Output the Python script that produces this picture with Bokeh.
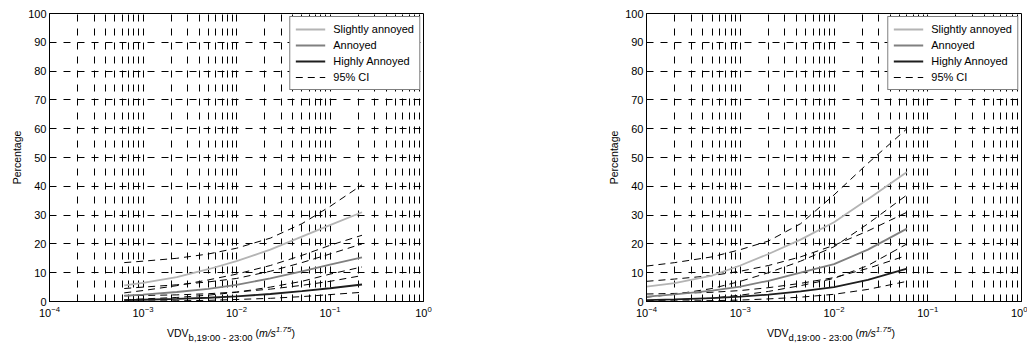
from bokeh.plotting import figure
from bokeh.models import Range1d, FixedTicker, Legend, LegendItem, Div
from bokeh.layouts import row, column
from bokeh.embed import file_html
from bokeh.resources import INLINE

FONT = "Liberation Sans"

x_ticks = [1e-4, 1e-3, 1e-2, 1e-1, 1e0]
x_minor = [m * d for d in [1e-4, 1e-3, 1e-2, 1e-1] for m in range(2, 10)]
y_ticks = [0, 10, 20, 30, 40, 50, 60, 70, 80, 90, 100]
legend_labels = ["Slightly annoyed", "Annoyed", "Highly Annoyed", "95% CI"]
y_label = "Percentage"
x_label_subs = ["b,19:00 - 23:00", "d,19:00 - 23:00"]

# ---- left panel (VDV_b) ----
left_x = [6.3e-4, 1e-3, 2.3e-3, 5e-3, 1e-2, 2.3e-2, 5e-2, 1e-1, 2.2e-1]
left_sa = [5.6, 6.5, 8.5, 11.2, 14.0, 18.0, 22.5, 26.5, 31.0]
left_a = [2.0, 2.4, 3.3, 4.4, 5.8, 8.0, 10.5, 12.8, 15.3]
left_ha = [0.5, 0.6, 0.9, 1.3, 1.8, 2.6, 3.6, 4.6, 5.9]
left_sa_up = [13.5, 14.0, 15.0, 16.5, 18.5, 22.0, 27.0, 33.0, 40.5]
left_sa_lo = [3.0, 3.8, 5.5, 7.5, 9.5, 12.5, 16.0, 19.5, 23.0]
left_a_up = [4.5, 5.0, 5.8, 6.8, 8.0, 10.5, 13.5, 16.5, 20.0]
left_a_lo = [0.6, 0.9, 1.4, 2.2, 3.2, 5.0, 7.0, 9.5, 12.0]
left_ha_up = [2.0, 2.1, 2.3, 2.7, 3.3, 4.3, 5.6, 7.0, 9.0]
left_ha_lo = [0.1, 0.15, 0.25, 0.4, 0.7, 1.1, 1.7, 2.4, 3.2]

# ---- right panel (VDV_d) ----
right_x = [1e-4, 2e-4, 5e-4, 1e-3, 2e-3, 4.4e-3, 1e-2, 2.3e-2, 6e-2]
right_sa = [5.2, 6.4, 9.0, 12.5, 16.5, 21.5, 27.5, 35.5, 45.0]
right_a = [1.7, 2.5, 3.8, 5.2, 7.2, 10.0, 13.0, 18.0, 25.3]
right_ha = [0.5, 0.75, 1.2, 1.7, 2.4, 3.5, 5.0, 7.5, 11.4]
right_sa_up = [12.3, 13.5, 15.5, 18.0, 21.0, 27.0, 37.0, 48.0, 60.0]
right_sa_lo = [1.5, 2.5, 4.5, 7.0, 10.0, 14.0, 19.0, 27.0, 37.0]
right_a_up = [7.0, 7.8, 9.0, 10.5, 12.5, 15.5, 19.5, 24.5, 31.0]
right_a_lo = [0.3, 0.6, 1.2, 2.2, 3.5, 5.5, 8.0, 12.5, 20.0]
right_ha_up = [2.6, 2.8, 3.2, 3.8, 4.8, 6.3, 8.3, 11.5, 16.0]
right_ha_lo = [0.1, 0.15, 0.3, 0.5, 0.9, 1.5, 2.5, 4.2, 7.0]

COL_SA = "#b4b4b4"
COL_A = "#808080"
COL_HA = "#1e1e1e"


def make_panel(width, border_left, border_right, xs, sa, a, ha, cis):
    p = figure(width=width, height=322, x_axis_type="log",
               x_range=Range1d(1e-4, 1), y_range=Range1d(0, 100),
               output_backend="svg", toolbar_location=None,
               min_border_left=border_left, min_border_right=border_right,
               min_border_top=13, min_border_bottom=21)
    p.background_fill_color = "white"
    p.border_fill_color = "white"
    p.outline_line_color = "black"
    p.outline_line_width = 1
    p.outline_line_alpha = 1

    p.xaxis.ticker = FixedTicker(ticks=x_ticks, minor_ticks=x_minor)
    p.yaxis.ticker = FixedTicker(ticks=y_ticks, minor_ticks=[])
    for ax in (p.xaxis[0], p.yaxis[0]):
        ax.axis_line_color = "black"
        ax.major_tick_line_color = "black"
        ax.minor_tick_line_color = "black"
        ax.major_tick_in = 5
        ax.major_tick_out = 0
        ax.minor_tick_in = 3
        ax.minor_tick_out = 0
        ax.major_label_text_font = FONT
        ax.major_label_text_font_size = "11px"
        ax.major_label_text_color = "black"
    p.xaxis.major_label_standoff = 4
    p.yaxis.major_label_standoff = 3
    p.yaxis.axis_label = y_label
    p.yaxis.axis_label_text_font = FONT
    p.yaxis.axis_label_text_font_size = "10.5px"
    p.yaxis.axis_label_text_font_style = "normal"
    p.yaxis.axis_label_text_color = "black"
    p.yaxis.axis_label_standoff = 2

    p.xgrid.grid_line_color = "black"
    p.xgrid.grid_line_dash = "7 7"
    p.xgrid.grid_line_alpha = 1
    p.xgrid.minor_grid_line_color = "black"
    p.xgrid.minor_grid_line_dash = "7 7"
    p.ygrid.grid_line_color = "black"
    p.ygrid.grid_line_dash = "7 7"
    p.ygrid.grid_line_alpha = 1

    ci_rs = []
    for ys in cis:
        r = p.line(xs, ys, line_color="black", line_width=1, line_dash="7 5")
        ci_rs.append(r)
    r_sa = p.line(xs, sa, line_color=COL_SA, line_width=1.8)
    r_a = p.line(xs, a, line_color=COL_A, line_width=1.8)
    r_ha = p.line(xs, ha, line_color=COL_HA, line_width=1.8)

    legend = Legend(items=[LegendItem(label=legend_labels[0], renderers=[r_sa]),
                           LegendItem(label=legend_labels[1], renderers=[r_a]),
                           LegendItem(label=legend_labels[2], renderers=[r_ha]),
                           LegendItem(label=legend_labels[3], renderers=[ci_rs[0]])],
                    location="top_right", margin=3, padding=5, spacing=2,
                    glyph_width=30, glyph_height=14, label_height=14,
                    label_standoff=8,
                    label_text_font=FONT, label_text_font_size="11px",
                    label_text_color="black",
                    border_line_color="black", border_line_width=1,
                    background_fill_color="white", background_fill_alpha=1)
    p.add_layout(legend)
    return p


def x_label_div(width, pad_left, sub):
    html = (
        f'<div style="padding-left:{pad_left}px; font-family:\'Liberation Sans\', Arial, sans-serif; '
        f'font-size:10.5px; line-height:16px; color:black; white-space:nowrap;">'
        f'VDV<span style="font-size:9.5px; position:relative; top:4px;">{sub}</span>'
        f' (<i>m/s</i><span style="font-size:8px; font-style:italic; position:relative; top:-5px;">1.75</span>)'
        f'</div>'
    )
    return Div(text=html, width=width, height=22, margin=0,
               styles={"padding-top": "3px"})


p1 = make_panel(540, 49, 117, left_x, left_sa, left_a, left_ha,
                [left_sa_up, left_sa_lo, left_a_up, left_a_lo, left_ha_up, left_ha_lo])
p2 = make_panel(487, 106, 6, right_x, right_sa, right_a, right_ha,
                [right_sa_up, right_sa_lo, right_a_up, right_a_lo, right_ha_up, right_ha_lo])

d1 = x_label_div(540, 167, x_label_subs[0])
d2 = x_label_div(487, 227, x_label_subs[1])

layout = column(row(p1, p2), row(d1, d2))
open("out.html", "w").write(file_html(layout, INLINE))
